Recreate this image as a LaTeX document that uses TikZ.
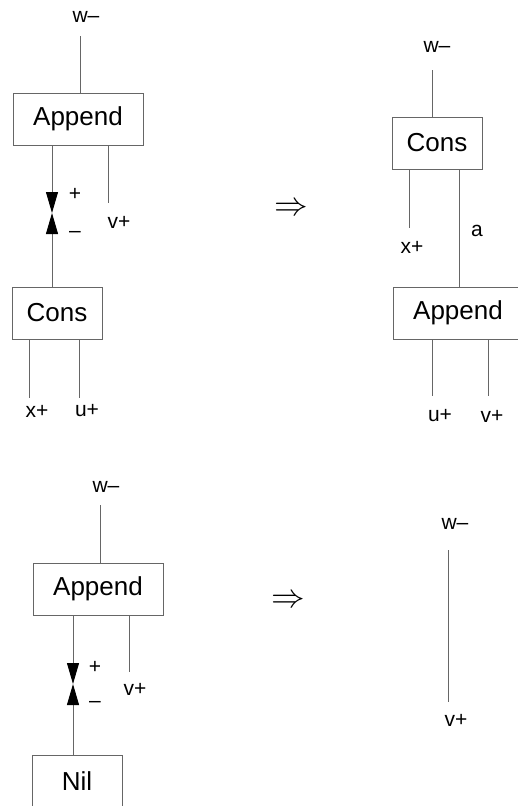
\documentclass[tikz,border=0pt]{standalone}
\usepackage{fontspec}
\setmainfont{Liberation Sans}
\usetikzlibrary{arrows.meta}

\tikzset{
  agent/.style={draw=black!60, line width=0.9pt, minimum height=52pt, inner sep=0pt,
    font=\fontsize{26}{31}\selectfont},
  wire/.style={draw=black!60, line width=0.9pt},
  port/.style={inner sep=0pt, font=\fontsize{21}{25}\selectfont},
  redex/.style={wire, -{Triangle[length=21pt,width=12pt,color=black]}},
  rule/.style={inner sep=0pt, font=\fontsize{24}{29}\selectfont},
}

\begin{document}
\begin{tikzpicture}[x=1pt,y=-1pt]
\clip (0,0) rectangle (518,806);

% Append meets Cons
\node[agent, minimum width=130pt] (app1) at (78,119) {Append};
\node[agent, minimum width=90pt] (cons1) at (57,313) {Cons};
\node[port] (w1) at (86,17) {w–};
\node[port] (v1) at (119,222) {v+};
\node[port] (x1) at (37,411) {x+};
\node[port] (u1) at (87,411) {u+};
\node[port] (pl1) at (75,194) {+};
\node[port] (mi1) at (75,234) {–};
\coordinate (w1end) at (80,36);
\coordinate (v1end) at (108,203);
\coordinate (x1end) at (29,398);
\coordinate (u1end) at (79,398);
\coordinate (pp1) at (52,213);
\draw[wire] (w1end) -- (w1end |- app1.north);
\draw[wire] (v1end |- app1.south) -- (v1end);
\draw[redex] (pp1 |- app1.south) -- (pp1);
\draw[redex] (pp1 |- cons1.north) -- (pp1);
\draw[wire] (x1end |- cons1.south) -- (x1end);
\draw[wire] (u1end |- cons1.south) -- (u1end);

\node[rule] (r1) at (291,209) {\scalebox{1.35}{$\Rightarrow$}};

% ... becomes Cons over Append
\node[agent, minimum width=90pt] (cons2) at (437,143) {Cons};
\node[agent, minimum width=130pt] (app2) at (458,313) {Append};
\node[port] (w2) at (437,47) {w–};
\node[port] (x2) at (412,247) {x+};
\node[port] (a2) at (477,231) {a};
\node[port] (u2) at (440,416) {u+};
\node[port] (v2) at (492,416) {v+};
\coordinate (w2end) at (432,70);
\coordinate (x2end) at (409,228);
\coordinate (a2x) at (459,0);
\coordinate (u2end) at (432,396);
\coordinate (v2end) at (488,396);
\draw[wire] (w2end) -- (w2end |- cons2.north);
\draw[wire] (x2end |- cons2.south) -- (x2end);
\draw[wire] (a2x |- cons2.south) -- (a2x |- app2.north);
\draw[wire] (u2end |- app2.south) -- (u2end);
\draw[wire] (v2end |- app2.south) -- (v2end);

% Append meets Nil
\node[agent, minimum width=130pt] (app3) at (98,589) {Append};
\node[agent, minimum width=90pt] (nil3) at (77,781) {Nil};
\node[port] (w3) at (106,487) {w–};
\node[port] (v3) at (135,689) {v+};
\node[port] (pl3) at (95,667) {+};
\node[port] (mi3) at (95,704) {–};
\coordinate (w3end) at (100,505);
\coordinate (v3end) at (129,672);
\coordinate (pp3) at (73,684);
\draw[wire] (w3end) -- (w3end |- app3.north);
\draw[wire] (v3end |- app3.south) -- (v3end);
\draw[redex] (pp3 |- app3.south) -- (pp3);
\draw[redex] (pp3 |- nil3.north) -- (pp3);

\node[rule] (r2) at (288,601) {\scalebox{1.35}{$\Rightarrow$}};

% ... becomes a plain wire
\node[port] (w4) at (455,524) {w–};
\node[port] (v4) at (456,720) {v+};
\coordinate (w4end) at (448,550);
\coordinate (v4end) at (448,702);
\draw[wire] (w4end) -- (v4end);
\end{tikzpicture}
\end{document}
